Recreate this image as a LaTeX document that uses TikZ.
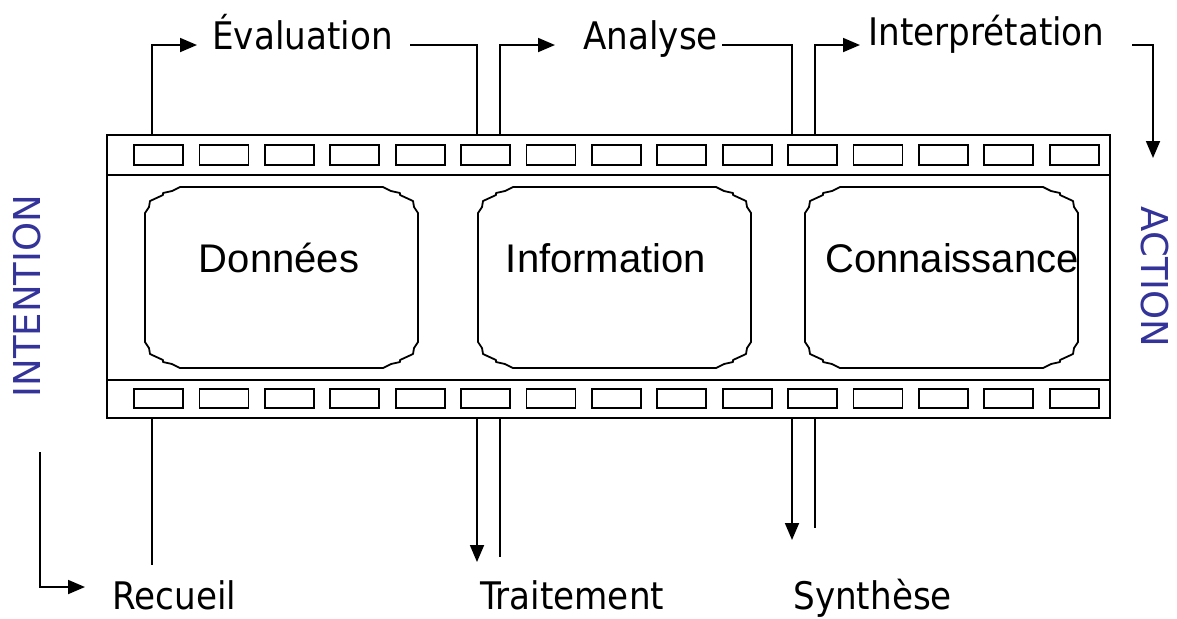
\documentclass[tikz,border=0pt]{standalone}
\usepackage{fontspec}
\setmainfont{Liberation Sans}
\newfontfamily\steplabelfont{DejaVu Sans Condensed}
\newfontfamily\sidelabelfont{DejaVu Sans}
\usetikzlibrary{arrows.meta}
\definecolor{sideblue}{RGB}{51,51,153}
\tikzset{
  film/.style={line width=1pt},
  hole/.style={line width=0.9pt},
  frameedge/.style={line width=0.9pt,line join=round},
  wire/.style={line width=0.9pt},
  flow/.style={wire,-{Triangle[length=8.5pt,width=7pt]}},
  steplabel/.style={font=\steplabelfont\fontsize{19}{22}\selectfont,inner sep=0pt},
  framelabel/.style={font=\fontsize{20}{23}\selectfont,inner sep=0pt},
  sidelabel/.style={font=\sidelabelfont\fontsize{18.5}{21}\selectfont,text=sideblue,inner sep=0pt}
}
% one picture of the film: #1 name, #2 left side, #3 text centre, #4 text
\newcommand{\filmframe}[4]{%
  \begin{scope}[shift={(#2,187)}]
    \draw[frameedge] (35,0) -- (238,0) -- (246,4) -- (255,6) -- (255,8) -- (268,14) -- (269,20) -- (273,26)
      -- (273,155) -- (269,161) -- (268,167) -- (255,173) -- (255,175) -- (246,177) -- (238,181)
      -- (35,181) -- (27,177) -- (18,175) -- (18,173) -- (5,167) -- (4,161) -- (0,155)
      -- (0,26) -- (4,20) -- (5,14) -- (18,8) -- (18,6) -- (27,4) -- cycle;
  \end{scope}
  \node[framelabel,anchor=base] (#1) at (#3,272) {#4};}

\begin{document}
\begin{tikzpicture}[x=0.5pt,y=-0.5pt]
  \useasboundingbox (0,0) rectangle (1177,618);

  % film strip
  \draw[film] (107,135) rectangle (1110,418);
  \draw[film] (107,175) -- (1110,175);
  \draw[film] (107,380) -- (1110,380);
  \foreach \i in {0,...,14} {
    \draw[hole] ({134+65.4*\i},145) rectangle +(49,20);
    \draw[hole] ({134+65.4*\i},389) rectangle +(49,19);
  }

  \filmframe{donnees}{145}{279}{Données}
  \filmframe{information}{478}{606}{Information}
  \filmframe{connaissance}{805}{952}{Connaissance}

  % labels
  \node[steplabel,anchor=base west] (evaluation) at (212,49) {Évaluation};
  \node[steplabel,anchor=base west] (analyse) at (583,49) {Analyse};
  \node[steplabel,anchor=base west] (interpretation) at (868,45) {Interprétation};
  \node[steplabel,anchor=base west] (recueil) at (112,609) {Recueil};
  \node[steplabel,anchor=base west] (traitement) at (480,609) {Traitement};
  \node[steplabel,anchor=base west] (synthese) at (793,609) {Synthèse};
  \node[sidelabel,rotate=90] (intention) at (27,296) {INTENTION};
  \node[sidelabel,rotate=-90] (action) at (1155,277) {ACTION};

  % top side
  \coordinate (t1) at (152,135);  \coordinate (e1) at (197,45);
  \coordinate (e2) at (410,45);   \coordinate (t2) at (477,135);
  \coordinate (t3) at (500,135);  \coordinate (a1) at (555,45);
  \coordinate (a2) at (722,45);   \coordinate (t4) at (792,135);
  \coordinate (t5) at (815,135);  \coordinate (i1) at (860,45);
  \coordinate (i2) at (1132,45);  \coordinate (act) at (1153,158);
  \draw[flow] (t1) |- (e1);
  \draw[wire] (e2) -| (t2);
  \draw[flow] (t3) |- (a1);
  \draw[wire] (a2) -| (t4);
  \draw[flow] (t5) |- (i1);
  \draw[flow] (i2) -| (act);

  % bottom side
  \coordinate (int) at (40,452);  \coordinate (r1) at (85,587);
  \coordinate (b1) at (152,418);  \coordinate (r2) at (152,565);
  \coordinate (b2) at (477,418);  \coordinate (tr1) at (477,562);
  \coordinate (b3) at (500,418);  \coordinate (tr2) at (500,557);
  \coordinate (b4) at (792,418);  \coordinate (s1) at (792,540);
  \coordinate (b5) at (815,418);  \coordinate (s2) at (815,528);
  \draw[flow] (int) |- (r1);
  \draw[wire] (b1) -- (r2);
  \draw[flow] (b2) -- (tr1);
  \draw[wire] (b3) -- (tr2);
  \draw[flow] (b4) -- (s1);
  \draw[wire] (b5) -- (s2);
\end{tikzpicture}
\end{document}
